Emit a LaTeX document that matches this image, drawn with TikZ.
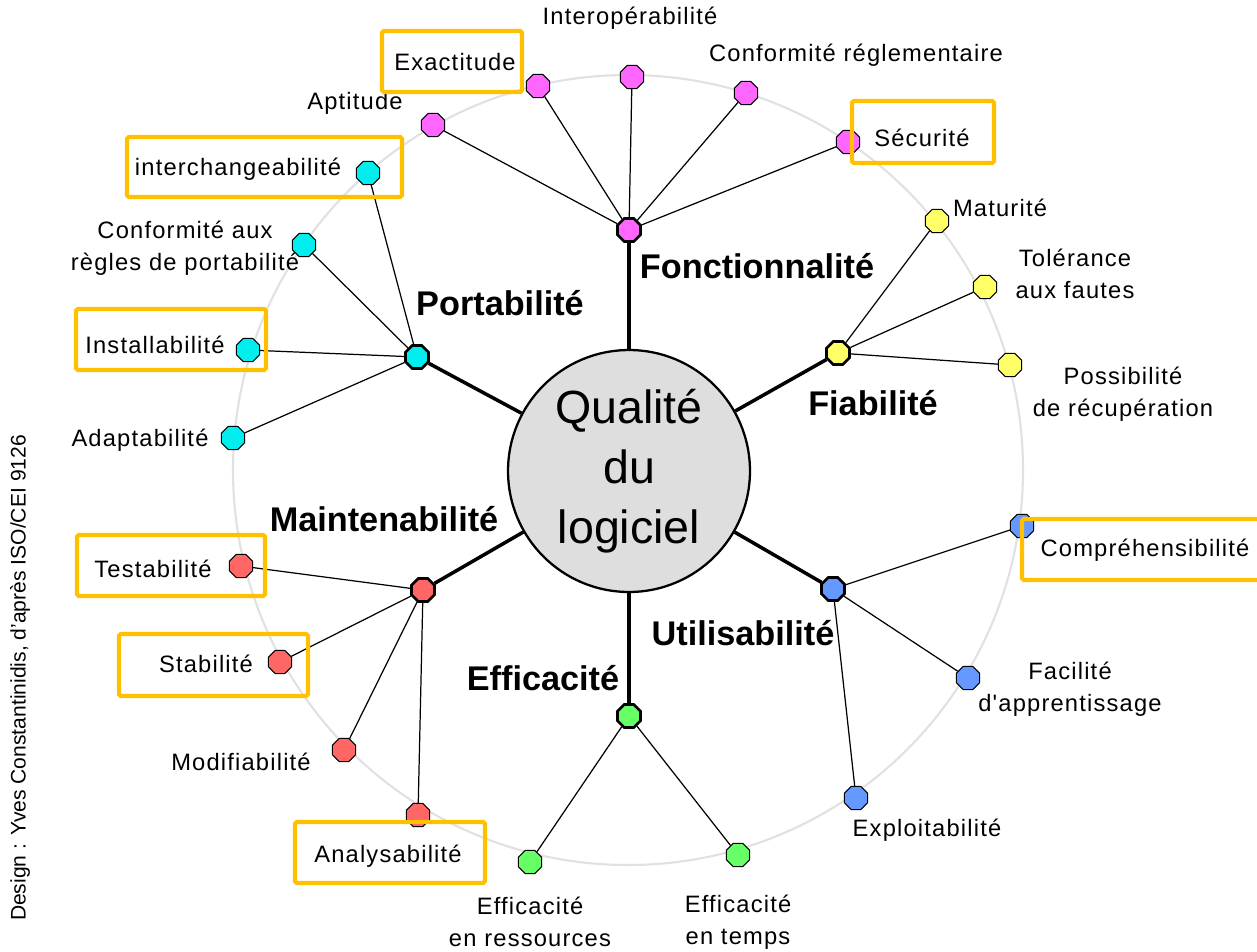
\documentclass[tikz,border=0pt]{standalone}
\usepackage{fontspec}
\setmainfont{Liberation Sans}
\newfontfamily\leaffont[LetterSpace=5]{Liberation Sans}
\usetikzlibrary{shapes.geometric}
\definecolor{fonccol}{RGB}{255,102,255}
\definecolor{portcol}{RGB}{0,238,238}
\definecolor{fiabcol}{RGB}{255,255,102}
\definecolor{utilcol}{RGB}{102,153,255}
\definecolor{efficol}{RGB}{102,255,102}
\definecolor{maintcol}{RGB}{255,102,102}
\definecolor{boxorange}{RGB}{255,192,0}
\definecolor{ringgray}{RGB}{225,225,225}
\tikzset{
	leaf/.style={regular polygon, regular polygon sides=8, draw, inner sep=0pt, minimum size=0.5cm, line width=0.6pt},
	hub/.style={leaf, line width=1.5pt},
	lbl/.style={font=\leaffont\fontsize{13.5}{18}\selectfont, align=center, inner sep=0pt},
	hublbl/.style={font=\bfseries\fontsize{19.5}{22}\selectfont, inner sep=0pt},
	twig/.style={line width=0.7pt},
	branch/.style={line width=2pt},
	hilite/.style={draw=boxorange, line width=2.3pt, rounded corners=1pt}
}

\begin{document}
\begin{tikzpicture}[x=0.02cm, y=-0.02cm]
			%%%%% START %%%%%
			\useasboundingbox (0, 0) rectangle (1257, 951);
			
			\draw[ringgray, line width=1.2pt] (628, 470) circle (395);
			
			\node[circle, draw, fill=black!13, line width=1.3pt, minimum size=4.84cm, inner sep=0pt, align=center,
				font=\fontsize{26.5}{34}\selectfont] (qual) at (629, 471) {Qualité\\du\\logiciel};
			
			% hubs
			\node[hub, fill=fonccol] (foncH) at (629, 230) {};
			\node[hub, fill=fiabcol] (fiabH) at (838, 353) {};
			\node[hub, fill=utilcol] (utilH) at (833, 589) {};
			\node[hub, fill=efficol] (effiH) at (629, 716) {};
			\node[hub, fill=maintcol] (maintH) at (423, 590) {};
			\node[hub, fill=portcol] (portH) at (417, 357) {};
			
			\node[hublbl] (foncL) at (757, 266) {Fonctionnalité};
			\node[hublbl] (fiabL) at (873, 403) {Fiabilité};
			\node[hublbl] (utilL) at (743, 633) {Utilisabilité};
			\node[hublbl] (effiL) at (543, 678) {Efficacité};
			\node[hublbl] (maintL) at (384, 519) {Maintenabilité};
			\node[hublbl] (portL) at (500, 303) {Portabilité};
			
			\foreach \h in {foncH, fiabH, utilH, effiH, maintH, portH}
				\draw[branch] (\h) -- (qual);
			
			% Fonctionnalite
			\node[leaf, fill=fonccol] (aptN) at (433, 125) {};
			\node[leaf, fill=fonccol] (exaN) at (538, 86) {};
			\node[leaf, fill=fonccol] (intN) at (632, 77) {};
			\node[leaf, fill=fonccol] (confrN) at (746, 93) {};
			\node[leaf, fill=fonccol] (secN) at (848, 142) {};
			\node[lbl] (aptL) at (355, 103) {Aptitude};
			\node[lbl] (exaL) at (455, 62) {Exactitude};
			\node[lbl] (intL) at (630, 18) {Interopérabilité};
			\node[lbl] (confrL) at (856, 55) {Conformité réglementaire};
			\node[lbl] (secL) at (922, 138) {Sécurité};
			\foreach \n in {aptN, exaN, intN, confrN, secN}
				\draw[twig] (\n) -- (foncH);
			
			% Fiabilite
			\node[leaf, fill=fiabcol] (matN) at (937, 221) {};
			\node[leaf, fill=fiabcol] (tolN) at (985, 287) {};
			\node[leaf, fill=fiabcol] (recN) at (1010, 365) {};
			\node[lbl] (matL) at (1000, 208) {Maturité};
			\node[lbl] (tolL) at (1075, 274) {Tolérance\\aux fautes};
			\node[lbl] (recL) at (1123, 394) {Possibilité\\de récupération};
			\foreach \n in {matN, tolN, recN}
				\draw[twig] (\n) -- (fiabH);
			
			% Utilisabilite
			\node[leaf, fill=utilcol] (compN) at (1022, 526) {};
			\node[leaf, fill=utilcol] (facN) at (968, 678) {};
			\node[leaf, fill=utilcol] (explN) at (856, 798) {};
			\node[lbl] (compL) at (1145, 550) {Compréhensibilité};
			\node[lbl] (facL) at (1070, 689) {Facilité\\d'apprentissage};
			\node[lbl] (explL) at (927, 830) {Exploitabilité};
			\foreach \n in {compN, facN, explN}
				\draw[twig] (\n) -- (utilH);
			
			% Efficacite
			\node[leaf, fill=efficol] (ressN) at (530, 862) {};
			\node[leaf, fill=efficol] (tempsN) at (738, 855) {};
			\node[lbl] (ressL) at (530, 922) {Efficacité\\en ressources};
			\node[lbl] (tempsL) at (738, 922) {Efficacité\\en temps};
			\foreach \n in {ressN, tempsN}
				\draw[twig] (\n) -- (effiH);
			
			% Maintenabilite
			\node[leaf, fill=maintcol] (anaN) at (418, 815) {};
			\node[leaf, fill=maintcol] (modN) at (344, 750) {};
			\node[leaf, fill=maintcol] (stabN) at (280, 662) {};
			\node[leaf, fill=maintcol] (testN) at (241, 566) {};
			\node[lbl] (anaL) at (388, 856) {Analysabilité};
			\node[lbl] (modL) at (241, 762) {Modifiabilité};
			\node[lbl] (stabL) at (206, 664) {Stabilité};
			\node[lbl] (testL) at (153, 569) {Testabilité};
			\foreach \n in {anaN, modN, stabN, testN}
				\draw[twig] (\n) -- (maintH);
			
			% Portabilite
			\node[leaf, fill=portcol] (adapN) at (233, 438) {};
			\node[leaf, fill=portcol] (instN) at (248, 350) {};
			\node[leaf, fill=portcol] (confpN) at (304, 245) {};
			\node[leaf, fill=portcol] (interN) at (368, 173) {};
			\node[lbl] (adapL) at (140, 440) {Adaptabilité};
			\node[lbl] (instL) at (155, 345) {Installabilité};
			\node[lbl] (confpL) at (185, 248) {Conformité aux\\règles de portabilité};
			\node[lbl] (interL) at (238, 169) {interchangeabilité};
			\foreach \n in {adapN, instN, confpN, interN}
				\draw[twig] (\n) -- (portH);
			
			% highlighted criteria
			\draw[hilite] (382, 31) rectangle (522, 92);
			\draw[hilite] (852, 101) rectangle (994, 163);
			\draw[hilite] (127, 137) rectangle (402, 197);
			\draw[hilite] (76, 309) rectangle (266, 370);
			\draw[hilite] (77, 535) rectangle (265, 596);
			\draw[hilite] (119, 634) rectangle (308, 696);
			\draw[hilite] (295, 822) rectangle (485, 883);
			\draw[hilite] (1022, 519) rectangle (1262, 580);
			
			\node[rotate=90, font=\fontsize{12}{14}\selectfont, inner sep=0pt] (credit) at (20, 678) {Design : Yves Constantinidis, d'après ISO/CEI 9126};
			
			%%%%% END %%%%%
\end{tikzpicture}
\end{document}
